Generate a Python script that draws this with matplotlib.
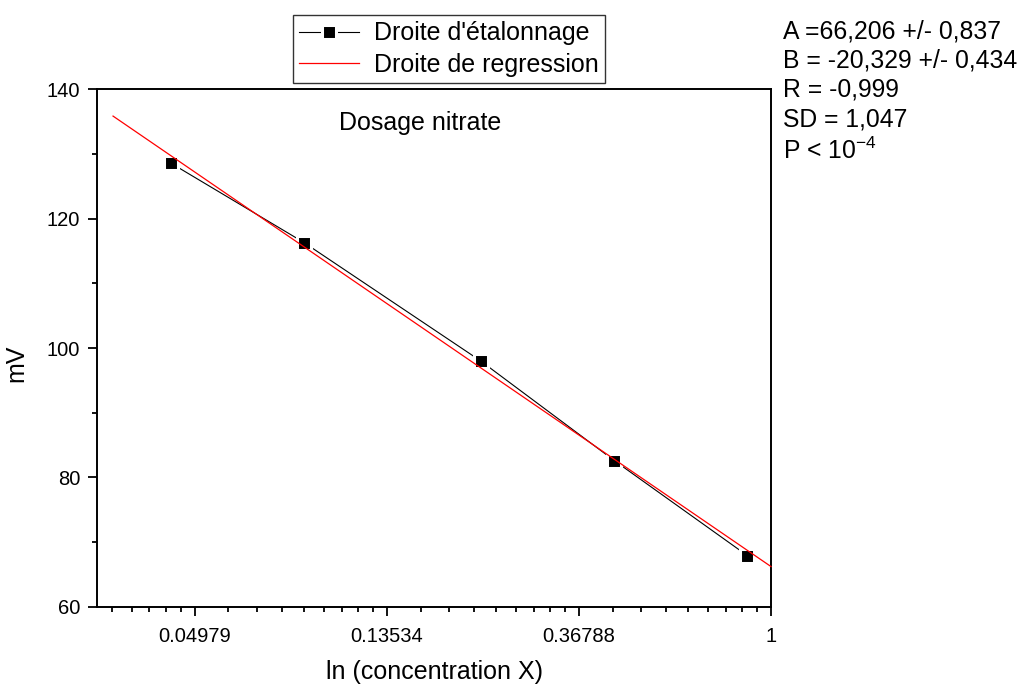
import numpy as np
import matplotlib
matplotlib.use("Agg")
import matplotlib.pyplot as plt
from matplotlib.ticker import FixedLocator, NullFormatter

plt.rcParams['font.family'] = ['Liberation Sans', 'DejaVu Sans']

# data
concentration = [0.0439, 0.0879, 0.2205, 0.442, 0.884]
mv = [128.6, 116.3, 98.0, 82.6, 67.9]
A, B = 66.206, -20.329
reg_x = [0.0325, 1.0]
major_ticks = [np.exp(-3), np.exp(-2), np.exp(-1), 1.0]
major_labels = ["0.04979", "0.13534", "0.36788", "1"]
stats_lines = ["A =66,206 +/- 0,837", "B = -20,329 +/- 0,434", "R = -0,999",
               "SD = 1,047", r"P < 10$^{\mathregular{-4}}$"]

fig = plt.figure(figsize=(10.2, 6.84), dpi=100)
ax = fig.add_axes([0.0951, 0.1130, 0.7559 - 0.0951, 0.8694 - 0.1130])

ax.set_xscale('log', base=np.e)
ax.set_xlim(np.exp(-3.51), 1.0)
ax.set_ylim(60, 140)

l1, = ax.plot(concentration, mv, color='black', lw=0.8, marker='s', ms=10,
              mfc='black', mec='white', mew=2.2, zorder=3)
rx = np.array(reg_x)
ry = A + B * np.log(rx)
l2, = ax.plot(rx, ry, color='red', lw=0.9, zorder=4, clip_on=False)

# ticks
ax.xaxis.set_major_locator(FixedLocator(major_ticks))
ax.set_xticklabels(major_labels)
minor = []
for k in range(-4, 0):
    lo, hi = np.exp(k), np.exp(k + 1)
    for j in range(1, 9):
        minor.append(lo + j * (hi - lo) / 9)
ax.xaxis.set_minor_locator(FixedLocator(minor))
ax.xaxis.set_minor_formatter(NullFormatter())
ax.set_yticks([60, 80, 100, 120, 140])
ax.yaxis.set_minor_locator(FixedLocator([70, 90, 110, 130]))

ax.tick_params(which='major', direction='out', length=6.5, width=1.3,
               labelsize=14.5, top=False, right=False)
ax.tick_params(which='minor', direction='out', length=3.3, width=1.3,
               top=False, right=False)
ax.tick_params(axis='x', which='major', pad=8)
ax.tick_params(axis='y', which='major', pad=5.5)
for s in ax.spines.values():
    s.set_linewidth(1.4)

ax.set_xlabel("ln (concentration X)", fontsize=18, labelpad=10)
ax.set_ylabel("mV", fontsize=18, labelpad=13, y=0.47)

ax.text(0.480, 0.934, "Dosage nitrate", transform=ax.transAxes,
        fontsize=18, ha='center', va='center')

leg = fig.legend([l1, l2], ["Droite d'étalonnage", "Droite de regression"],
                 loc='upper left', bbox_to_anchor=(293 / 1020, 1 - 15 / 684),
                 fontsize=18, frameon=True, fancybox=False, edgecolor='black',
                 handlelength=2.4, handletextpad=0.6, borderpad=0.25,
                 labelspacing=0.3, borderaxespad=0)
leg.get_frame().set_linewidth(1.0)

ys = [31, 60.5, 89.5, 119.5, 151]
for t, y in zip(stats_lines, ys):
    fig.text(783 / 1020, 1 - y / 684, t, fontsize=17.8, ha='left', va='center')

fig.savefig("out.png", dpi=100)
